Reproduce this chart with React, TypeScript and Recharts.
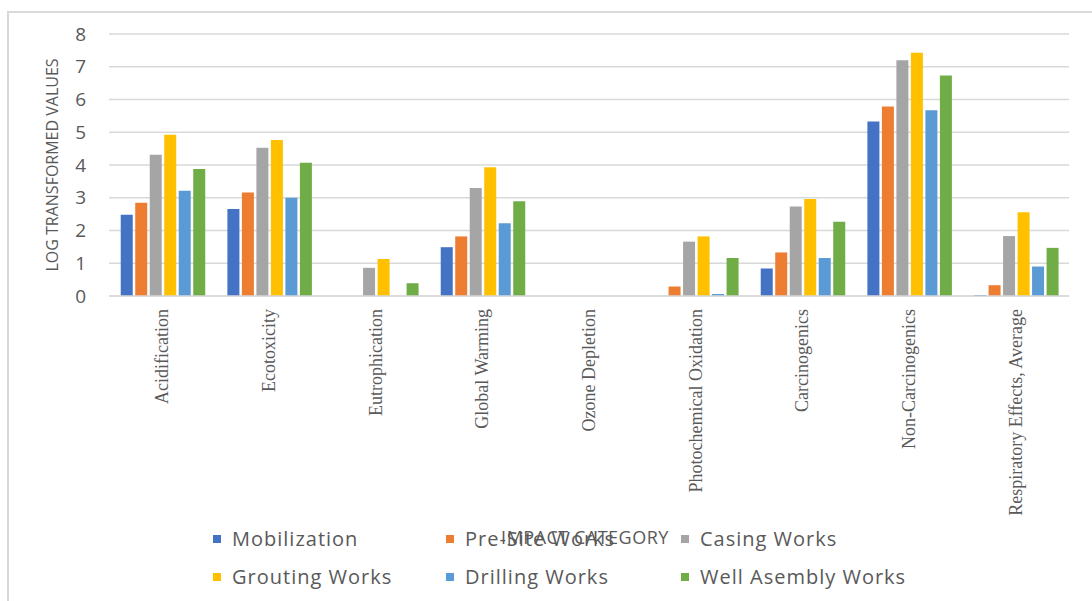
import React from 'react';
import { BarChart, Bar, XAxis, YAxis, CartesianGrid } from 'recharts';

// impact categories along the x axis
const categories = [
  'Acidification',
  'Ecotoxicity',
  'Eutrophication',
  'Global Warming',
  'Ozone Depletion',
  'Photochemical Oxidation',
  'Carcinogenics',
  'Non-Carcinogenics',
  'Respiratory Effects, Average',
];

// log transformed values per work stage
const mobilization = [2.48, 2.66, 0, 1.49, 0, 0, 0.84, 5.33, 0.03];
const preSiteWorks = [2.85, 3.16, 0, 1.82, 0, 0.29, 1.33, 5.79, 0.33];
const casingWorks = [4.31, 4.53, 0.86, 3.3, 0, 1.66, 2.73, 7.2, 1.83];
const groutingWorks = [4.92, 4.76, 1.13, 3.93, 0, 1.82, 2.96, 7.43, 2.56];
const drillingWorks = [3.21, 3.0, 0, 2.22, 0, 0.06, 1.16, 5.67, 0.9];
const wellAsemblyWorks = [3.88, 4.07, 0.39, 2.89, 0, 1.16, 2.27, 6.73, 1.47];

const yTicks = [0, 1, 2, 3, 4, 5, 6, 7, 8];

const series = [
  { key: 'mobilization', name: 'Mobilization', color: '#4472C4', values: mobilization },
  { key: 'preSite', name: 'Pre-Site Works', color: '#ED7D31', values: preSiteWorks },
  { key: 'casing', name: 'Casing Works', color: '#A5A5A5', values: casingWorks },
  { key: 'grouting', name: 'Grouting Works', color: '#FFC000', values: groutingWorks },
  { key: 'drilling', name: 'Drilling Works', color: '#5B9BD5', values: drillingWorks },
  { key: 'wellAsembly', name: 'Well Asembly Works', color: '#70AD47', values: wellAsemblyWorks },
];

const data = categories.map((category, i) => {
  const row: Record<string, string | number> = { category };
  series.forEach((s) => {
    row[s.key] = s.values[i];
  });
  return row;
});

const textGray = '#595959';
const sans = '"Open Sans", "Noto Sans", sans-serif';

const CategoryTick = (props: any) => {
  const { x, y, payload } = props;
  const tx = x + 6;
  const ty = y + 5;
  return (
    <text
      x={tx}
      y={ty}
      transform={`rotate(-90, ${tx}, ${ty})`}
      textAnchor="end"
      fill={textGray}
      fontSize={18}
      fontFamily='"Liberation Serif", "DejaVu Serif", serif'
    >
      {payload.value}
    </text>
  );
};

const App = () => {
  return (
    <div style={{ position: 'absolute', left: 0, top: 0, width: 1092, height: 601, background: '#fff', overflow: 'hidden' }}>
      {/* chart frame */}
      <div
        style={{
          position: 'absolute',
          left: 7,
          top: 11,
          width: 1200,
          height: 700,
          borderLeft: '2px solid #d9d9d9',
          borderTop: '2px solid #d9d9d9',
        }}
      />
      <div style={{ position: 'absolute', left: 0, top: 0 }}>
        <BarChart
          width={1092}
          height={601}
          data={data}
          margin={{ top: 34, right: 23, left: 0, bottom: 0 }}
          barCategoryGap="11%"
          barGap={2.5}
        >
          <CartesianGrid vertical={false} stroke="#d9d9d9" strokeWidth={1.5} />
          <XAxis
            dataKey="category"
            height={305}
            interval={0}
            axisLine={{ stroke: '#d9d9d9', strokeWidth: 1.5 }}
            tickLine={false}
            tick={<CategoryTick />}
            label={{
              value: 'IMPACT CATEGORY',
              position: 'insideBottom',
              offset: 57,
              dx: -4,
              fill: textGray,
              fontSize: 18,
              letterSpacing: 0.5,
              fontFamily: sans,
            }}
          />
          <YAxis
            width={109}
            domain={[0, 8]}
            ticks={yTicks}
            axisLine={false}
            tickLine={false}
            tickSize={0}
            tickMargin={23}
            tick={{ fill: textGray, fontSize: 19, fontFamily: sans }}
            label={{
              value: 'LOG TRANSFORMED VALUES',
              angle: -90,
              position: 'center',
              dx: -2,
              fill: textGray,
              fontSize: 16,
              fontFamily: sans,
            }}
          />
          {series.map((s) => (
            <Bar key={s.key} dataKey={s.key} name={s.name} fill={s.color} isAnimationActive={false} />
          ))}
        </BarChart>
      </div>
      {/* legend, three columns by two rows */}
      <div style={{ position: 'absolute', left: 213, top: 525, width: 720, display: 'grid', gridTemplateColumns: '233px 235px 250px', rowGap: 11 }}>
        {series.map((s) => (
          <div
            key={s.key}
            style={{ display: 'flex', alignItems: 'center', height: 27, fontFamily: sans, fontSize: 20, letterSpacing: 1, color: textGray, whiteSpace: 'nowrap' }}
          >
            <span style={{ display: 'inline-block', width: 8, height: 8, background: s.color, marginRight: 11 }} />
            {s.name}
          </div>
        ))}
      </div>
    </div>
  );
};

export default App;
